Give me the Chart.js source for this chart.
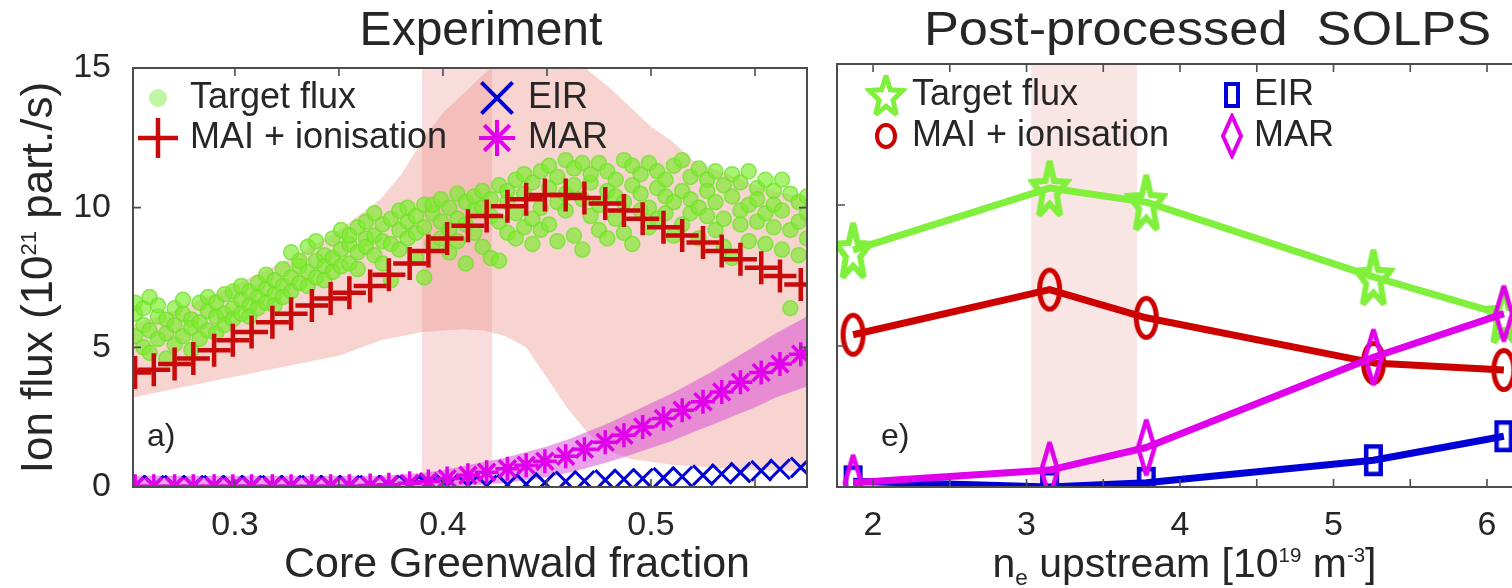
<!DOCTYPE html>
<html>
<head>
<meta charset="utf-8">
<script src="https://cdn.jsdelivr.net/npm/chart.js@4.4.1/dist/chart.umd.min.js"></script>
<style>
  body { margin: 0; background: #fff; width: 1512px; height: 588px; overflow: hidden; position: relative; }
  #expChart { position: absolute; left: 0; top: 0; }
  #solpsChart { position: absolute; left: 760px; top: 0; }
</style>
</head>
<body>
<canvas id="expChart" width="830" height="588"></canvas>
<canvas id="solpsChart" width="752" height="588"></canvas>
<script>
// ---- Experiment panel (a) ----
const fGW = [0.252, 0.261, 0.271, 0.280, 0.290, 0.299, 0.308, 0.318, 0.327, 0.337, 0.346, 0.355,
  0.365, 0.374, 0.384, 0.393, 0.402, 0.412, 0.421, 0.431, 0.440, 0.449, 0.459, 0.468, 0.478,
  0.487, 0.496, 0.506, 0.515, 0.525, 0.534, 0.543, 0.553, 0.562, 0.572];
const maiExp = [4.1, 4.2, 4.4, 4.6, 4.9, 5.25, 5.55, 5.9, 6.2, 6.5, 6.75, 6.95,
  7.2, 7.6, 8.0, 8.45, 8.9, 9.35, 9.7, 10.05, 10.3, 10.45, 10.45, 10.35, 10.15,
  9.9, 9.6, 9.3, 9.0, 8.75, 8.45, 8.15, 7.85, 7.55, 7.25];
const marExp = [0.03, 0.03, 0.03, 0.03, 0.03, 0.03, 0.03, 0.03, 0.03, 0.03, 0.03, 0.03,
  0.05, 0.08, 0.13, 0.2, 0.3, 0.42, 0.53, 0.65, 0.78, 0.92, 1.1, 1.35, 1.6,
  1.85, 2.15, 2.45, 2.75, 3.05, 3.4, 3.75, 4.1, 4.4, 4.75];
const eirExp = [0.05, 0.05, 0.05, 0.05, 0.05, 0.05, 0.05, 0.05, 0.05, 0.05, 0.05, 0.05,
  0.05, 0.05, 0.05, 0.05, 0.05, 0.05, 0.05, 0.08, 0.1, 0.15, 0.2, 0.22, 0.25,
  0.28, 0.3, 0.33, 0.37, 0.42, 0.47, 0.52, 0.58, 0.64, 0.7];

const bandX   = [0.251, 0.27, 0.29, 0.31, 0.33, 0.35, 0.37, 0.38, 0.39, 0.40, 0.41, 0.42, 0.43, 0.44,
  0.45, 0.46, 0.47, 0.48, 0.49, 0.50, 0.51, 0.52, 0.53, 0.54, 0.55, 0.56, 0.575];
const maiLow  = [3.2, 3.5, 3.8, 4.1, 4.4, 4.7, 5.25, 5.4, 5.55, 5.6, 5.65, 5.6, 5.4, 5.0,
  3.9, 2.8, 1.9, 1.3, 1.0, 0.9, 0.8, 0.75, 0.7, 0.65, 0.6, 0.6, 0.55];
const maiHigh = [5.8, 6.3, 6.9, 7.6, 8.3, 9.2, 10.3, 11.2, 12.4, 13.4, 14.1, 14.8, 15.4, 15.9,
  16.0, 15.6, 14.9, 14.3, 13.6, 12.9, 12.4, 11.7, 11.4, 11.1, 10.8, 10.6, 10.3];
const marLow  = [0, 0, 0, 0, 0, 0, 0, 0, 0, 0, 0.05, 0.1, 0.15, 0.25,
  0.35, 0.5, 0.7, 0.9, 1.15, 1.4, 1.65, 1.95, 2.25, 2.55, 2.85, 3.2, 3.6];
const marHigh = [0.4, 0.4, 0.4, 0.4, 0.4, 0.4, 0.4, 0.45, 0.5, 0.6, 0.75, 0.9, 1.05, 1.25,
  1.45, 1.7, 2.0, 2.3, 2.65, 3.0, 3.35, 3.75, 4.15, 4.6, 5.05, 5.5, 6.1];

// measured target flux (scatter), three shots per fGW bin
const tfX = [0.252, 0.256, 0.259, 0.263, 0.267, 0.271, 0.275, 0.279, 0.283, 0.287, 0.291, 0.295,
  0.299, 0.303, 0.307, 0.311, 0.315, 0.319, 0.323, 0.327, 0.331, 0.335, 0.339, 0.343, 0.347,
  0.351, 0.355, 0.359, 0.363, 0.367, 0.371, 0.375, 0.379, 0.383, 0.387, 0.391, 0.395, 0.399,
  0.403, 0.407, 0.411, 0.415, 0.419, 0.423, 0.427, 0.431, 0.435, 0.439, 0.443, 0.447, 0.451,
  0.455, 0.459, 0.463, 0.467, 0.471, 0.475, 0.479, 0.483, 0.487, 0.491, 0.495, 0.499, 0.503,
  0.507, 0.511, 0.515, 0.519, 0.523, 0.527, 0.531, 0.535, 0.539, 0.543, 0.547, 0.551, 0.555,
  0.559, 0.563, 0.567, 0.571, 0.575];
const tfY = [
  [5.4, 6.2, 6.6], [5.0, 5.8, 6.4], [6.8, 5.6, 4.8], [6.1, 5.3, 6.5], [6.0, 5.5, 4.6],
  [5.8, 6.4, 5.1], [6.2, 5.4, 6.7], [6.0, 5.7, 4.9], [6.6, 5.9, 5.3], [6.3, 6.8, 5.6],
  [6.1, 6.6, 5.5], [6.9, 6.2, 5.8], [7.0, 6.4, 6.0], [6.7, 6.2, 7.2], [6.5, 7.0, 6.1],
  [7.3, 6.8, 6.4], [7.1, 6.6, 7.6], [7.4, 6.9, 6.5], [7.8, 7.2, 6.8], [8.4, 7.5, 7.0],
  [7.9, 7.3, 8.1], [8.6, 7.7, 7.2], [8.8, 8.1, 7.5], [8.3, 7.9, 7.4], [8.9, 8.2, 7.7],
  [9.2, 8.5, 7.9], [8.7, 8.0, 9.0], [9.3, 8.4, 7.8], [8.9, 8.6, 9.5], [9.8, 9.0, 8.3],
  [9.4, 8.8, 8.0], [9.6, 8.7, 7.4], [9.2, 9.9, 8.5], [9.5, 8.9, 10.0], [9.7, 9.1, 8.2],
  [10.1, 9.3, 7.5], [9.8, 10.1, 8.7], [9.5, 10.3, 8.9], [10.0, 9.2, 8.4], [10.5, 9.6, 8.8],
  [10.2, 9.4, 8.0], [10.4, 9.9, 9.1], [10.0, 10.6, 8.6], [9.7, 10.3, 8.2], [10.8, 9.5, 8.1],
  [10.2, 9.1, 10.6], [11.0, 9.8, 8.9], [10.5, 9.3, 11.2], [10.9, 9.6, 8.7], [11.3, 10.0, 9.2],
  [10.7, 9.4, 11.5], [11.1, 10.2, 8.8], [11.7, 9.9, 10.5], [10.8, 9.0, 11.4], [11.6, 10.3, 8.5],
  [10.9, 9.7, 11.2], [11.6, 10.1, 9.2], [10.6, 11.3, 8.9], [11.0, 9.6, 10.4], [11.7, 10.2, 9.1],
  [10.8, 11.5, 8.7], [11.2, 9.9, 10.5], [11.6, 10.0, 9.3], [10.7, 11.3, 9.6], [11.0, 9.8, 10.4],
  [11.5, 10.2, 9.0], [11.7, 10.6, 9.4], [11.1, 9.8, 10.3], [11.4, 10.0, 8.9], [11.0, 9.7, 10.6],
  [11.3, 10.2, 9.2], [10.8, 9.6, 8.6], [11.2, 10.4, 8.2], [10.9, 9.9, 9.4], [11.3, 10.1, 8.8],
  [10.7, 9.5, 10.3], [11.0, 9.8, 8.7], [10.6, 9.3, 10.1], [11.0, 9.9, 8.5], [10.5, 9.2, 6.4],
  [10.2, 9.5, 8.3], [9.8, 10.4, 8.9]];

const expShade = [0.390, 0.4236];
const expXTicks = [0.30, 0.35, 0.40, 0.45, 0.50, 0.55];
const expXLabels = [0.3, 0.4, 0.5];
const fluxTicks = [0, 5, 10, 15];

// ---- Post-processed SOLPS panel (e) ----
const neUp = [1.87, 3.15, 3.78, 5.26, 6.11];
const tfSolps = [8.4, 10.6, 10.1, 7.45, 6.1];
const maiSolps = [5.4, 7.0, 6.0, 4.4, 4.15];
const eirSolps = [0.2, 0.0, 0.15, 0.95, 1.8];
const marSolps = [0.15, 0.6, 1.4, 4.6, 6.15];
const solpsShade = [3.03, 3.72];
const neTicks = [2, 2.5, 3, 3.5, 4, 4.5, 5, 5.5, 6];
const neLabels = [2, 3, 4, 5, 6];

const INK = '#262626';
const RED = 'rgb(205,0,0)';
const BLUE = 'rgb(0,0,215)';
const MAG = 'rgb(225,0,235)';
const LIME = 'rgb(128,240,60)';
const FAM = "'Liberation Sans', Arial, Helvetica, sans-serif";
Chart.defaults.font.family = FAM;
Chart.defaults.color = INK;

const pts = (xs, ys) => xs.map((x, i) => ({ x: x, y: ys[i] }));

// stretched outline markers, like the squeezed SOLPS figure
function marker(shape, w, h, color, lw) {
  const c = document.createElement('canvas');
  c.width = w; c.height = h;
  const g = c.getContext('2d');
  g.strokeStyle = color; g.lineWidth = lw; g.miterLimit = 3;
  const rx = w / 2 - lw / 2 - 1, ry = h / 2 - lw / 2 - 1;
  let cx = w / 2, cy = h / 2;
  g.beginPath();
  if (shape === 'star') {
    cy += ry * 0.1;
    for (let i = 0; i < 10; i++) {
      const r = i % 2 ? 0.42 : 1, a = -Math.PI / 2 + i * Math.PI / 5;
      g.lineTo(cx + rx * r * Math.cos(a), cy + ry * r * Math.sin(a));
    }
    g.closePath();
  } else if (shape === 'circle') {
    g.ellipse(cx, cy, rx, ry, 0, 0, 2 * Math.PI);
  } else if (shape === 'diamond') {
    g.moveTo(cx, cy - ry); g.lineTo(cx + rx, cy); g.lineTo(cx, cy + ry); g.lineTo(cx - rx, cy); g.closePath();
  } else {
    g.rect(cx - rx, cy - ry, 2 * rx, 2 * ry);
  }
  g.stroke();
  return c;
}
const mk = {
  star: marker('star', 44, 68, LIME, 6), starKey: marker('star', 42, 50, LIME, 5),
  circ: marker('circle', 27, 46, RED, 5), circKey: marker('circle', 24, 28, RED, 4),
  diam: marker('diamond', 23, 62, MAG, 4.5), diamKey: marker('diamond', 24, 46, MAG, 4),
  sq: marker('square', 21, 34, BLUE, 4.5), sqKey: marker('square', 18, 28, BLUE, 4)
};

// text with sub/superscripts: parts = [[text, 'sup'|'sub'|undefined], ...], centred on x, baseline y
function richText(ctx, parts, x, y, size) {
  const fs = k => (k === 'sup' ? size * 0.5 : k === 'sub' ? size * 0.55 : size);
  let w = 0;
  parts.forEach(p => { ctx.font = fs(p[1]) + 'px ' + FAM; w += ctx.measureText(p[0]).width; });
  let cx = x - w / 2;
  ctx.textAlign = 'left';
  ctx.textBaseline = 'alphabetic';
  parts.forEach(p => {
    ctx.font = fs(p[1]) + 'px ' + FAM;
    const dy = p[1] === 'sup' ? -size * 0.36 : p[1] === 'sub' ? size * 0.19 : 0;
    ctx.fillText(p[0], cx, y + dy);
    cx += ctx.measureText(p[0]).width;
  });
}

// keep the plot box where it is: no extra room for edge tick labels
const noEdgePad = s => { s.paddingLeft = 0; s.paddingRight = 0; };

// vertical shaded interval
const shade = {
  id: 'shade',
  beforeDatasetsDraw(chart, args, o) {
    const { ctx, chartArea: a, scales: { x } } = chart;
    const x0 = x.getPixelForValue(o.range[0]), x1 = x.getPixelForValue(o.range[1]);
    ctx.save();
    ctx.fillStyle = o.color;
    ctx.fillRect(x0, a.top, x1 - x0, a.bottom - a.top);
    ctx.restore();
  }
};

// box with inward ticks
const frame = {
  id: 'frame',
  afterDatasetsDraw(chart, args, o) {
    const { ctx, chartArea: a, scales: { x, y } } = chart;
    ctx.save();
    ctx.strokeStyle = '#4d4d4d'; ctx.lineWidth = 1.6;
    ctx.beginPath();
    x.ticks.forEach(t => {
      const p = x.getPixelForValue(t.value);
      ctx.moveTo(p, a.bottom); ctx.lineTo(p, a.bottom - 8);
      ctx.moveTo(p, a.top); ctx.lineTo(p, a.top + 8);
    });
    y.ticks.forEach(t => {
      const p = y.getPixelForValue(t.value);
      ctx.moveTo(a.left, p); ctx.lineTo(a.left + 8, p);
      if (o.right) { ctx.moveTo(a.right, p); ctx.lineTo(a.right - 8, p); }
    });
    ctx.stroke();
    ctx.lineWidth = 2;
    ctx.beginPath();
    ctx.moveTo(o.right ? a.right : a.right + 5, a.top);
    ctx.lineTo(a.left, a.top); ctx.lineTo(a.left, a.bottom);
    ctx.lineTo(o.right ? a.right : a.right + 5, a.bottom);
    if (o.right) ctx.closePath();
    ctx.stroke();
    ctx.restore();
  }
};

// panel title, axis titles, panel tag and two-column key
const annot = {
  id: 'annot',
  afterDraw(chart, args, o) {
    const { ctx, chartArea: a } = chart;
    ctx.save();
    ctx.fillStyle = INK;
    ctx.textBaseline = 'middle';
    ctx.textAlign = 'center';
    ctx.font = '48px ' + FAM;
    ctx.save();
    ctx.translate((a.left + a.right) / 2 + o.titleDx, 32);
    ctx.scale(o.titleSX, 1);
    ctx.fillText(o.title, 0, 0);
    ctx.restore();
    richText(ctx, o.xTitle, (a.left + a.right) / 2 + o.xTitleDx, 577, o.xTitleSize);
    if (o.yTitle) {
      ctx.save();
      ctx.translate(52, (a.top + a.bottom) / 2);
      ctx.rotate(-Math.PI / 2);
      richText(ctx, o.yTitle, 0, 0, 44);
      ctx.restore();
    }
    ctx.textBaseline = 'middle';
    ctx.textAlign = 'left';
    ctx.font = '32px ' + FAM;
    ctx.fillText(o.tag, a.left + o.tagDx, a.bottom - 50);
    ctx.font = '36px ' + FAM;
    o.keys.forEach(k => {
      const mx = a.left + o.cols[k.col], my = a.top + o.rows[k.row];
      if (k.img) {
        ctx.drawImage(k.img, mx - k.img.width / 2, my - k.img.height / 2);
      } else {
        ctx.strokeStyle = k.stroke; ctx.fillStyle = k.fill || k.stroke; ctx.lineWidth = k.lw;
        Chart.helpers.drawPoint(ctx, { pointStyle: k.style, radius: k.r, rotation: 0, borderWidth: k.lw }, mx, my);
        ctx.fillStyle = INK;
      }
      ctx.fillText(k.text, mx + o.textDx[k.col], my);
    });
    ctx.restore();
  }
};

new Chart(document.getElementById('expChart'), {
  type: 'line',
  data: {
    datasets: [
      { label: 'MAI + ionisation', data: pts(fGW, maiExp), showLine: false, pointStyle: 'cross',
        pointRadius: 16.5, pointBorderWidth: 4.5, borderColor: 'rgb(200,10,10)', order: 0, clip: 0 },
      { label: 'MAR', data: pts(fGW, marExp), showLine: false, pointStyle: 'star',
        pointRadius: 12, pointBorderWidth: 3.5, borderColor: MAG, order: 1, clip: 0 },
      { label: 'EIR', data: pts(fGW, eirExp), showLine: false, pointStyle: 'crossRot',
        pointRadius: 14, pointBorderWidth: 3, borderColor: BLUE, order: 2, clip: 0 },
      { label: 'Target flux', data: tfX.flatMap((x, i) => (tfY[i] || []).map(y => ({ x: x, y: y }))),
        showLine: false, pointStyle: 'circle', pointRadius: 7.5, pointBorderWidth: 1.5,
        backgroundColor: 'rgba(125,236,45,0.68)', borderColor: 'rgba(110,225,40,0.75)', order: 3, clip: 0 },
      { label: 'MAR low', data: pts(bandX, marLow), pointRadius: 0, borderWidth: 0, order: 5 },
      { label: 'MAR high', data: pts(bandX, marHigh), pointRadius: 0, borderWidth: 0, fill: '-1',
        backgroundColor: 'rgba(215,70,215,0.5)', order: 4 },
      { label: 'MAI low', data: pts(bandX, maiLow), pointRadius: 0, borderWidth: 0, order: 7 },
      { label: 'MAI high', data: pts(bandX, maiHigh), pointRadius: 0, borderWidth: 0, fill: '-1',
        backgroundColor: 'rgba(236,135,125,0.36)', order: 6 }
    ]
  },
  options: {
    responsive: false, animation: false, events: [],
    layout: { autoPadding: false, padding: { top: 68, right: 23, left: 0, bottom: 0 } },
    scales: {
      x: {
        type: 'linear', min: 0.251, max: 0.575,
        afterBuildTicks: s => { s.ticks = expXTicks.map(v => ({ value: v })); },
        afterFit: s => { s.height = 101; noEdgePad(s); },
        grid: { display: false, drawTicks: false }, border: { display: false },
        ticks: { padding: 18, autoSkip: false, maxRotation: 0, font: { size: 34 }, color: INK,
          callback: v => expXLabels.includes(v) ? v.toFixed(1) : '' }
      },
      y: {
        min: 0, max: 15,
        afterBuildTicks: s => { s.ticks = fluxTicks.map(v => ({ value: v })); },
        afterFit: s => { s.width = 133; },
        grid: { display: false, drawTicks: false }, border: { display: false },
        ticks: { padding: 22, font: { size: 34 }, color: INK }
      }
    },
    plugins: {
      legend: { display: false }, tooltip: { enabled: false },
      shade: { range: expShade, color: 'rgba(232,130,130,0.28)' },
      frame: { right: true },
      annot: {
        title: 'Experiment', titleDx: 11, titleSX: 1, tag: 'a)', tagDx: 14,
        xTitle: [['Core Greenwald fraction']], xTitleDx: 47, xTitleSize: 43,
        yTitle: [['Ion flux (10'], ['21', 'sup'], [' part./s)']],
        cols: [25, 364], rows: [30, 70], textDx: [32, 31],
        keys: [
          { text: 'Target flux', col: 0, row: 0, style: 'circle', r: 9, lw: 0, stroke: 'rgba(0,0,0,0)', fill: 'rgba(150,240,100,0.6)' },
          { text: 'MAI + ionisation', col: 0, row: 1, style: 'cross', r: 20, lw: 4.5, stroke: 'rgb(200,10,10)' },
          { text: 'EIR', col: 1, row: 0, style: 'crossRot', r: 22, lw: 4, stroke: BLUE },
          { text: 'MAR', col: 1, row: 1, style: 'star', r: 18, lw: 4, stroke: MAG }
        ]
      }
    }
  },
  plugins: [shade, frame, annot]
});

new Chart(document.getElementById('solpsChart'), {
  type: 'line',
  data: {
    datasets: [
      { label: 'MAR', data: pts(neUp, marSolps), borderColor: MAG, borderWidth: 7, pointStyle: mk.diam, order: 0, clip: 0 },
      { label: 'Target flux', data: pts(neUp, tfSolps), borderColor: LIME, borderWidth: 7, pointStyle: mk.star, order: 1, clip: 0 },
      { label: 'MAI + ionisation', data: pts(neUp, maiSolps), borderColor: RED, borderWidth: 7, pointStyle: mk.circ, order: 2, clip: 0 },
      { label: 'EIR', data: pts(neUp, eirSolps), borderColor: BLUE, borderWidth: 7, pointStyle: mk.sq, order: 3, clip: 0 }
    ]
  },
  options: {
    responsive: false, animation: false, events: [],
    elements: { line: { tension: 0, borderJoinStyle: 'round' }, point: { radius: 10 } },
    layout: { autoPadding: false, padding: { top: 64, right: 0, left: 0, bottom: 0 } },
    scales: {
      x: {
        type: 'linear', min: 1.765, max: 6.163,
        afterBuildTicks: s => { s.ticks = neTicks.map(v => ({ value: v })); },
        afterFit: s => { s.height = 101; noEdgePad(s); },
        grid: { display: false, drawTicks: false }, border: { display: false },
        ticks: { padding: 18, autoSkip: false, maxRotation: 0, font: { size: 34 }, color: INK,
          callback: v => neLabels.includes(v) ? String(v) : '' }
      },
      y: {
        min: 0, max: 15,
        afterBuildTicks: s => { s.ticks = fluxTicks.map(v => ({ value: v })); },
        afterFit: s => { s.width = 77; },
        grid: { display: false, drawTicks: false }, border: { display: false },
        ticks: { display: false }
      }
    },
    plugins: {
      legend: { display: false }, tooltip: { enabled: false },
      shade: { range: solpsShade, color: 'rgba(236,160,160,0.28)' },
      frame: { right: false },
      annot: {
        title: 'Post-processed  SOLPS', titleDx: 33, titleSX: 1.09, tag: 'e)', tagDx: 44,
        xTitle: [['n'], ['e', 'sub'], [' upstream [10'], ['19', 'sup'], [' m'], ['-3', 'sup'], [']']],
        xTitleDx: 10, xTitleSize: 41,
        cols: [49, 395], rows: [31, 72], textDx: [26, 22],
        keys: [
          { text: 'Target flux', col: 0, row: 0, img: mk.starKey },
          { text: 'MAI + ionisation', col: 0, row: 1, img: mk.circKey },
          { text: 'EIR', col: 1, row: 0, img: mk.sqKey },
          { text: 'MAR', col: 1, row: 1, img: mk.diamKey }
        ]
      }
    }
  },
  plugins: [shade, frame, annot]
});
</script>
</body>
</html>
